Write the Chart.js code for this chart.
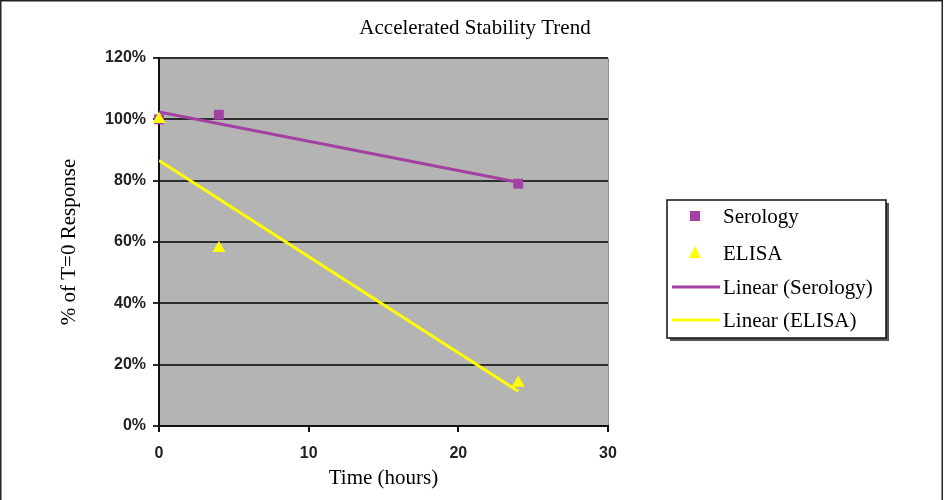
<!DOCTYPE html>
<html>
<head>
<meta charset="utf-8">
<title>Accelerated Stability Trend</title>
<script src="https://cdn.jsdelivr.net/npm/chart.js@4/dist/chart.umd.min.js"></script>
<style>
  html, body { margin: 0; padding: 0; background: #fff; }
  canvas { display: block; }
</style>
</head>
<body>
<canvas id="stability" width="944" height="500"></canvas>
<script>
// measured response, % of T=0
const hours = [0, 4, 24];
const serology = [100, 101.5, 79];
const elisa = [100, 58, 14];

// fitted trend line ends (at 0 h and 24 h)
const trendHours = [0, 24];
const serologyTrend = [102.4, 79.5];
const elisaTrend = [86.6, 11.3];

const yTicks = [0, 20, 40, 60, 80, 100, 120];
const xTicks = [0, 10, 20, 30];

const magenta = '#a43fa4';
const yellow = '#ffff00';
const serif = '"Liberation Serif", "Times New Roman", serif';
const sans = '"Liberation Sans", Arial, sans-serif';

function pts(xs, ys) {
  return xs.map((x, i) => ({ x: x, y: ys[i] }));
}

// gray plot area behind the grid
const plotBackground = {
  id: 'plotBackground',
  beforeDraw(chart) {
    const a = chart.chartArea, ctx = chart.ctx;
    ctx.save();
    ctx.fillStyle = '#fff';
    ctx.fillRect(0, 0, chart.width, chart.height);
    ctx.fillStyle = '#b4b4b4';
    ctx.fillRect(a.left, a.top, a.right - a.left, a.bottom - a.top);
    ctx.strokeStyle = '#8c8c8c';
    ctx.lineWidth = 1;
    ctx.beginPath();
    ctx.moveTo(a.left, a.top + 0.5);
    ctx.lineTo(a.right + 0.5, a.top + 0.5);
    ctx.lineTo(a.right + 0.5, a.bottom);
    ctx.stroke();
    ctx.restore();
  }
};

// outer frame, title and the boxed legend on the right
const decorations = {
  id: 'decorations',
  afterDraw(chart) {
    const ctx = chart.ctx;
    ctx.save();
    ctx.strokeStyle = '#222';
    ctx.lineWidth = 1.5;
    ctx.beginPath();
    ctx.moveTo(0.75, chart.height);
    ctx.lineTo(0.75, 0.75);
    ctx.lineTo(942.25, 0.75);
    ctx.lineTo(942.25, chart.height);
    ctx.stroke();

    ctx.fillStyle = '#000';
    ctx.font = '21px ' + serif;
    ctx.textAlign = 'center';
    ctx.textBaseline = 'middle';
    ctx.fillText('Accelerated Stability Trend', 475, 28);

    // legend box with a drop shadow
    const bx = 667, by = 200, bw = 219, bh = 138;
    ctx.fillStyle = '#555';
    ctx.fillRect(bx + 3, by + 3, bw, bh);
    ctx.fillStyle = '#fff';
    ctx.fillRect(bx, by, bw, bh);
    ctx.strokeStyle = '#111';
    ctx.lineWidth = 1.5;
    ctx.strokeRect(bx, by, bw, bh);

    const ds = chart.data.datasets;
    const rows = [217, 254, 288, 321];
    ctx.font = '21px ' + serif;
    ctx.textAlign = 'left';
    ds.forEach((d, i) => {
      const y = rows[i];
      if (d.showLine) {
        ctx.strokeStyle = d.borderColor;
        ctx.lineWidth = 3;
        ctx.beginPath();
        ctx.moveTo(672, y - 1);
        ctx.lineTo(720, y - 1);
        ctx.stroke();
      } else if (d.pointStyle === 'rect') {
        ctx.fillStyle = d.backgroundColor;
        ctx.fillRect(690, y - 6, 10, 10);
      } else {
        ctx.fillStyle = d.backgroundColor;
        ctx.beginPath();
        ctx.moveTo(695, y - 8);
        ctx.lineTo(701, y + 4);
        ctx.lineTo(689, y + 4);
        ctx.closePath();
        ctx.fill();
      }
      ctx.fillStyle = '#000';
      ctx.fillText(d.label, 723, y);
    });
    ctx.restore();
  }
};

new Chart(document.getElementById('stability'), {
  type: 'scatter',
  data: {
    datasets: [
      {
        label: 'Serology',
        data: pts(hours, serology),
        pointStyle: 'rect',
        pointRadius: 7,
        backgroundColor: magenta,
        borderColor: magenta,
        borderWidth: 0,
        clip: false,
        order: 1
      },
      {
        label: 'ELISA',
        data: pts(hours, elisa),
        pointStyle: 'triangle',
        pointRadius: 7.5,
        backgroundColor: yellow,
        borderColor: yellow,
        borderWidth: 0,
        clip: false,
        order: 0
      },
      {
        label: 'Linear (Serology)',
        data: pts(trendHours, serologyTrend),
        showLine: true,
        pointRadius: 0,
        borderColor: magenta,
        backgroundColor: magenta,
        borderWidth: 3,
        order: 3
      },
      {
        label: 'Linear (ELISA)',
        data: pts(trendHours, elisaTrend),
        showLine: true,
        pointRadius: 0,
        borderColor: yellow,
        backgroundColor: yellow,
        borderWidth: 3,
        order: 2
      }
    ]
  },
  options: {
    responsive: false,
    animation: false,
    layout: { padding: { left: 0, right: 336, top: 58, bottom: 0 } },
    plugins: {
      legend: { display: false },
      title: { display: false },
      tooltip: { enabled: false }
    },
    scales: {
      x: {
        type: 'linear',
        min: 0,
        max: 30,
        afterBuildTicks(scale) { scale.ticks = xTicks.map(v => ({ value: v })); },
        afterFit(scale) { scale.height = 74; },
        grid: { drawOnChartArea: false, color: '#111', lineWidth: 2, tickLength: 6 },
        border: { color: '#111', width: 2 },
        ticks: {
          color: '#222',
          padding: 12,
          maxRotation: 0,
          font: { family: sans, size: 16, weight: 'bold' }
        },
        title: {
          display: true,
          text: 'Time (hours)',
          color: '#000',
          padding: { top: 0, bottom: 9 },
          font: { family: serif, size: 21 }
        }
      },
      y: {
        min: 0,
        max: 120,
        afterBuildTicks(scale) { scale.ticks = yTicks.map(v => ({ value: v })); },
        afterFit(scale) { scale.width = 159; },
        grid: { color: '#2e2e2e', lineWidth: 2, tickLength: 6 },
        border: { color: '#111', width: 2 },
        ticks: {
          color: '#222',
          padding: 7,
          callback: v => v + '%',
          font: { family: sans, size: 16, weight: 'bold' }
        },
        title: {
          display: true,
          text: '% of T=0 Response',
          color: '#000',
          padding: { top: 57, bottom: 0 },
          font: { family: serif, size: 21 }
        }
      }
    }
  },
  plugins: [plotBackground, decorations]
});
</script>
</body>
</html>
